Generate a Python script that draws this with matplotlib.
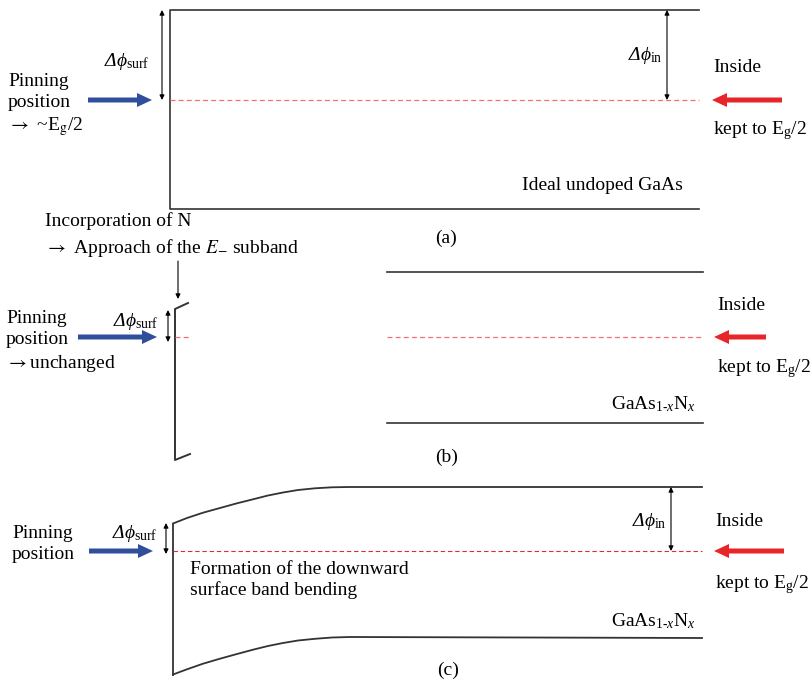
import matplotlib.pyplot as plt

plt.rcParams['font.family'] = ['Liberation Serif', 'DejaVu Serif']
plt.rcParams['mathtext.fontset'] = 'custom'
plt.rcParams['mathtext.rm'] = 'Liberation Serif'
plt.rcParams['mathtext.it'] = 'Liberation Serif:italic'
plt.rcParams['mathtext.bf'] = 'Liberation Serif:bold'
plt.rcParams['mathtext.fallback'] = 'stix'

# band levels (pixel coords, y down) for the three panels
a_top, a_mid, a_bot = 10, 100, 209
b_top, b_mid, b_bot = 272, 337, 423
c_top, c_mid, c_bot = 487, 551, 638

# surface band bending in (c)
curve_x = [173, 187, 203, 220, 237, 253, 268, 283, 298, 315, 332, 350]
curve_top = [523.5, 518, 512.7, 508, 503.3, 499.3, 495.5, 492.5, 490, 488.3, 487.3, 487]
curve_bot = [674.5, 669.3, 663.7, 658.7, 654, 649.7, 646, 643, 640.5, 638.8, 637.5, 637]

line_c = '#333333'
blue = '#2f4f9c'
red = '#e8262a'
pink = '#f07070'
fs = 14

fig = plt.figure(figsize=(8.12, 6.82), dpi=100)
ax = fig.add_axes([0, 0, 1, 1])
ax.set_xlim(0, 812)
ax.set_ylim(682, 0)
ax.axis('off')


def darrow(x, y0, y1):
    ax.annotate('', xy=(x, y0), xytext=(x, y1),
                arrowprops=dict(arrowstyle='<|-|>', color='black', lw=0.8,
                                mutation_scale=7, shrinkA=0, shrinkB=0))


def fat_arrow(x0, x1, y, col):
    ax.arrow(x0, y, x1 - x0, 0, width=5, head_width=14, head_length=15,
             length_includes_head=True, color=col, lw=0)


def dphi(x, y, sub):
    # italic Delta as plain text, phi + subscript as math
    ax.text(x, y, 'Δ$\\phi_{\\mathrm{' + sub + '}}$', fontsize=fs, ha='right',
            va='center', style='italic')


gaasn = r'GaAs$_{\mathrm{1\text{-}}x}$N$_{x}$'
eg2 = r'E$_{\mathrm{g}}$/2'
arr = r'$\rightarrow$'

# ---- (a)
ax.plot([699, 170, 170, 699], [a_top, a_top, a_bot, a_bot], color=line_c, lw=1.2)
ax.plot([170, 699], [a_mid, a_mid], color=pink, lw=0.9, ls=(0, (4, 2.5)))
darrow(162, a_top, a_mid)
darrow(667, a_top, a_mid)
dphi(149, 61, 'surf')
dphi(663, 56, 'in')
fat_arrow(88, 152, a_mid, blue)
ax.text(8, 92, 'Pinning\nposition', fontsize=fs, ha='left',
        va='center', linespacing=1.25)
ax.text(8, 127, arr + ' ~' + eg2, fontsize=fs, ha='left', va='center',
        math_fontfamily='stix')
fat_arrow(782, 712, a_mid, red)
ax.text(713, 68, 'Inside', fontsize=fs, va='center')
ax.text(713, 131, 'kept to ' + eg2, fontsize=fs, va='center')
ax.text(683, 186, 'Ideal undoped GaAs', fontsize=fs, ha='right', va='center')
ax.text(446, 238, '(a)', fontsize=fs, ha='center', va='center')

# ---- (b)
ax.text(45, 221, 'Incorporation of N', fontsize=fs, va='center')
ax.text(45, 248, arr + r' Approach of the $\mathit{E}_{\mathrm{-}}$ subband',
        fontsize=fs, va='center', math_fontfamily='stix')
ax.annotate('', xy=(178, 299), xytext=(178, 261),
            arrowprops=dict(arrowstyle='-|>', color='black', lw=0.8,
                            mutation_scale=7, shrinkA=0, shrinkB=0))
ax.plot([188, 175, 175, 190], [303, 309, 460, 454], color=line_c, lw=1.4)
ax.plot([175, 190], [b_mid, b_mid], color=pink, lw=0.9, ls=(0, (4, 2.5)))
darrow(168, 310, 342)
dphi(158, 322, 'surf')
fat_arrow(78, 157, b_mid, blue)
ax.text(6, 329, 'Pinning\nposition', fontsize=fs, ha='left',
        va='center', linespacing=1.25)
ax.text(6, 364, arr + 'unchanged', fontsize=fs, ha='left', va='center',
        math_fontfamily='stix')
ax.plot([387, 703], [b_top, b_top], color=line_c, lw=1.2)
ax.plot([387, 703], [b_bot, b_bot], color=line_c, lw=1.2)
ax.plot([387, 703], [b_mid, b_mid], color=pink, lw=0.9, ls=(0, (4, 2.5)))
ax.text(696, 404, gaasn, fontsize=fs, ha='right', va='center')
fat_arrow(766, 714, b_mid, red)
ax.text(717, 305, 'Inside', fontsize=fs, va='center')
ax.text(717, 369, 'kept to ' + eg2, fontsize=fs, va='center')
ax.text(447, 457, '(b)', fontsize=fs, ha='center', va='center')

# ---- (c)
ax.plot(curve_x + [702], curve_top + [c_top], color=line_c, lw=1.3)
ax.plot(curve_x + [702], curve_bot + [c_bot], color=line_c, lw=1.3)
ax.plot([173, 173], [curve_top[0], curve_bot[0]], color=line_c, lw=1.3)
ax.plot([173, 702], [c_mid, c_mid], color='#d83030', lw=0.8, ls=(0, (4, 2.5)))
darrow(166, 523, 554)
dphi(157, 533, 'surf')
darrow(671, c_top, c_mid)
dphi(667, 521, 'in')
fat_arrow(89, 153, c_mid, blue)
ax.text(12, 544, 'Pinning\nposition', fontsize=fs, ha='left', va='center',
        linespacing=1.25)
ax.text(190, 580, 'Formation of the downward\nsurface band bending',
        fontsize=fs, ha='left', va='center', linespacing=1.2)
fat_arrow(784, 714, c_mid, red)
ax.text(715, 521, 'Inside', fontsize=fs, va='center')
ax.text(715, 585, 'kept to ' + eg2, fontsize=fs, va='center')
ax.text(696, 621, gaasn, fontsize=fs, ha='right', va='center')
ax.text(448, 670, '(c)', fontsize=fs, ha='center', va='center')

fig.savefig('out.png', dpi=100)
